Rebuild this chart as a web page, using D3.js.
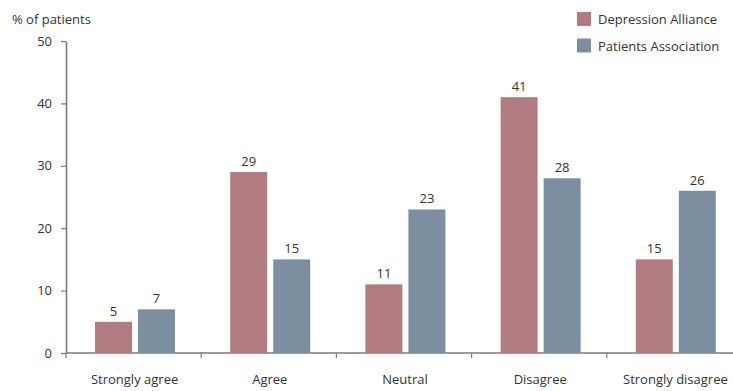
<!DOCTYPE html>
<html>
<head>
<meta charset="utf-8">
<script src="https://cdn.jsdelivr.net/npm/d3@7"></script>
<style>
  html, body { margin: 0; padding: 0; background: #fff; }
  svg text { font-family: "Open Sans", "Noto Sans", sans-serif; fill: #333; }
</style>
</head>
<body>
<svg id="chart" width="733" height="391"></svg>
<script>
// Survey responses by organisation (% of patients)
const categories = ["Strongly agree", "Agree", "Neutral", "Disagree", "Strongly disagree"];
const seriesNames = ["Depression Alliance", "Patients Association"];
const depressionAlliance = [5, 29, 11, 41, 15];
const patientsAssociation = [7, 15, 23, 28, 26];
const yTicks = [0, 10, 20, 30, 40, 50];
const colors = ["#b07c80", "#7b8fa0"];

const seriesValues = [depressionAlliance, patientsAssociation];
const rows = categories.map((c, i) => ({
  category: c,
  values: seriesNames.map((s, j) => ({ series: s, value: seriesValues[j][i] }))
}));

const svg = d3.select("#chart");
const plotLeft = 66, plotRight = 742, plotTop = 41, plotBottom = 353;

const x = d3.scaleBand().domain(categories).range([plotLeft, plotRight]).paddingInner(0).paddingOuter(0);
// pair of bars sits slightly left of each band's centre
const xInner = d3.scaleBand().domain(seriesNames).range([29, 109]).paddingInner(0.14).paddingOuter(0);
const y = d3.scaleLinear().domain([0, 50]).range([plotBottom, plotTop]);

const axisColor = "#7a7a7a";

// y axis
const yAxis = svg.append("g")
  .attr("transform", `translate(${plotLeft},0)`)
  .call(d3.axisLeft(y).tickValues(yTicks).tickSize(5).tickPadding(9).tickSizeOuter(0));
yAxis.select(".domain").attr("stroke", axisColor).attr("stroke-width", 1.6);
yAxis.selectAll(".tick line").attr("stroke", axisColor).attr("stroke-width", 1.2);
yAxis.selectAll(".tick text").style("font-size", "13px").attr("fill", "#333");

// x axis with ticks at band boundaries
const xAxisG = svg.append("g").attr("transform", `translate(0,${plotBottom})`);
xAxisG.append("line")
  .attr("x1", plotLeft).attr("x2", 733)
  .attr("stroke", axisColor).attr("stroke-width", 1.6);
xAxisG.selectAll(".bound")
  .data(categories)
  .join("line")
  .attr("class", "bound")
  .attr("x1", d => x(d)).attr("x2", d => x(d))
  .attr("y1", 0).attr("y2", 5)
  .attr("stroke", axisColor).attr("stroke-width", 1.2);
xAxisG.selectAll(".cat")
  .data(categories)
  .join("text")
  .attr("class", "cat")
  .attr("x", d => x(d) + x.bandwidth() / 2 + 1)
  .attr("y", 31)
  .attr("text-anchor", "middle")
  .style("font-size", "13px")
  .text(d => d);

// axis title
svg.append("text")
  .attr("x", 12).attr("y", 24)
  .style("font-size", "13px")
  .text("% of patients");

// bars
const groups = svg.selectAll(".grp")
  .data(rows)
  .join("g")
  .attr("class", "grp")
  .attr("transform", d => `translate(${x(d.category)},0)`);

groups.selectAll("rect")
  .data(d => d.values)
  .join("rect")
  .attr("x", d => xInner(d.series))
  .attr("width", xInner.bandwidth())
  .attr("y", d => y(d.value))
  .attr("height", d => y(0) - y(d.value))
  .attr("fill", (d, i) => colors[i]);

groups.selectAll(".val")
  .data(d => d.values)
  .join("text")
  .attr("class", "val")
  .attr("x", d => xInner(d.series) + xInner.bandwidth() / 2)
  .attr("y", d => y(d.value) - 6)
  .attr("text-anchor", "middle")
  .style("font-size", "13px")
  .text(d => d.value);

// legend
const legend = svg.selectAll(".leg")
  .data(seriesNames)
  .join("g")
  .attr("class", "leg")
  .attr("transform", (d, i) => `translate(577,${12 + i * 26.5})`);
legend.append("rect")
  .attr("width", 14).attr("height", 14)
  .attr("fill", (d, i) => colors[i]);
legend.append("text")
  .attr("x", 21).attr("y", 12)
  .style("font-size", "13px")
  .text(d => d);
</script>
</body>
</html>
